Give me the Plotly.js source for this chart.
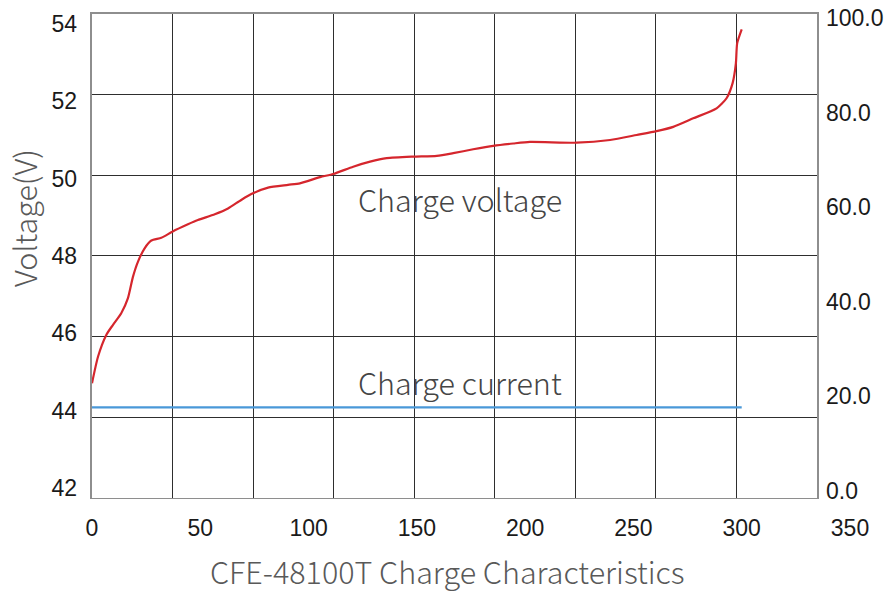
<!DOCTYPE html>
<html>
<head>
<meta charset="utf-8">
<script src="https://cdn.plot.ly/plotly-3.0.1.min.js"></script>
<style>html,body{margin:0;padding:0;background:#fff;}#chart{width:891px;height:594px;}</style>
</head>
<body>
<div id="chart"></div>
<script>
// ---- data ----
const timeMin = [0, 2.8, 6.6, 9.7, 13.5, 16.6, 18.9, 21.2, 24.3, 27.4, 32.0, 37.1, 44.3, 48.9, 56.7, 62.8, 68.9, 74.3, 81.3, 90.5, 96.0, 105.3, 111.4, 120.6, 128.4, 136.1, 148.3, 159.2, 166.8, 176.0, 185.3, 194.5, 202.2, 223.8, 239.2, 251.5, 260.7, 268.4, 277.6, 288.4, 293.0, 295.8, 297.3, 297.9, 300.0];
const chargeVoltage = [44.71, 45.40, 45.96, 46.22, 46.52, 46.91, 47.46, 47.85, 48.20, 48.40, 48.47, 48.63, 48.82, 48.93, 49.08, 49.23, 49.45, 49.62, 49.77, 49.84, 49.88, 50.04, 50.12, 50.31, 50.44, 50.53, 50.57, 50.59, 50.66, 50.76, 50.85, 50.91, 50.95, 50.93, 51.00, 51.13, 51.23, 51.34, 51.56, 51.82, 52.08, 52.47, 52.98, 53.50, 53.86];
const currentTime = [0, 300];
const chargeCurrent = [17.7, 17.7];

const xTicks = [0, 50, 100, 150, 200, 250, 300, 350];
const voltageTicks = [42, 44, 46, 48, 50, 52, 54];
const currentTicks = [0, 20, 40, 60, 80, 100];
const currentTickText = currentTicks.map(v => v.toFixed(1));

const seriesLabels = ['Charge voltage', 'Charge current'];
const yTitle = 'Voltage(V)';
const xTitle = 'CFE-48100T Charge Characteristics';

// ---- layout geometry ----
const W = 891, H = 594;
const px = v => v / W, py = v => 1 - v / H;
const frameX = [px(92), px(817)];
const frameY = [py(497.7), py(14)];
const wideX = [px(92), px(850)];

const tickFont = {family: 'Liberation Sans, Arial, sans-serif', size: 23, color: '#1a1a1a'};
const textFont = {family: 'Noto Sans CJK SC, Noto Sans, sans-serif', size: 30.5, color: '#595959', weight: 300};

const traces = [
  {x: [], y: [], xaxis: 'x', yaxis: 'y', type: 'scatter', mode: 'lines', showlegend: false, hoverinfo: 'skip'},
  {x: timeMin, y: chargeVoltage, xaxis: 'x2', yaxis: 'y2', type: 'scatter', mode: 'lines',
   name: seriesLabels[0], line: {color: '#d5262d', width: 2.2, shape: 'spline', smoothing: 0.6}},
  {x: currentTime, y: chargeCurrent, xaxis: 'x2', yaxis: 'y3', type: 'scatter', mode: 'lines',
   name: seriesLabels[1], line: {color: '#4a98d8', width: 2.2}}
];

const layout = {
  width: W, height: H,
  margin: {l: 0, r: 0, t: 0, b: 0},
  paper_bgcolor: '#ffffff',
  plot_bgcolor: 'rgba(0,0,0,0)',
  showlegend: false,
  // grid frame
  xaxis: {domain: frameX, anchor: 'y', range: [0, 9], dtick: 1, tick0: 0, showgrid: true,
          gridcolor: '#2e2e2e', gridwidth: 1, showticklabels: false, ticks: '', zeroline: false,
          showline: true, mirror: true, linecolor: '#8e8e8e', linewidth: 1.6, fixedrange: true},
  yaxis: {domain: frameY, anchor: 'x', range: [0, 6], dtick: 1, tick0: 0, showgrid: true,
          gridcolor: '#2e2e2e', gridwidth: 1, showticklabels: false, ticks: '', zeroline: false,
          showline: true, mirror: true, linecolor: '#8e8e8e', linewidth: 1.6, fixedrange: true},
  // data axes
  xaxis2: {domain: wideX, anchor: 'y2', range: [0, 350], tickvals: xTicks, ticktext: xTicks.map(String),
           showgrid: false, zeroline: false, showline: false, ticks: '', tickfont: tickFont,
           ticklabelstandoff: 14},
  yaxis2: {domain: frameY, anchor: 'x2', range: [41.749, 54.259], tickvals: voltageTicks,
           ticktext: voltageTicks.map(String), showgrid: false, zeroline: false, showline: false,
           ticks: '', tickfont: tickFont, ticklabelstandoff: 14},
  yaxis3: {overlaying: 'y2', side: 'right', anchor: 'free', position: px(817),
           range: [-1.416, 100.846], tickvals: currentTicks, ticktext: currentTickText,
           showgrid: false, zeroline: false, showline: false, ticks: '', tickfont: tickFont,
           ticklabelstandoff: 8},
  annotations: [
    {text: seriesLabels[0], xref: 'paper', yref: 'paper', x: px(356), y: py(199), xanchor: 'left', yanchor: 'middle', showarrow: false, font: Object.assign({}, textFont, {color: '#454545'})},
    {text: seriesLabels[1], xref: 'paper', yref: 'paper', x: px(356), y: py(382), xanchor: 'left', yanchor: 'middle', showarrow: false, font: Object.assign({}, textFont, {color: '#454545'})},
    {text: yTitle, xref: 'paper', yref: 'paper', x: px(24), y: py(218), xanchor: 'center', yanchor: 'middle', textangle: -90, showarrow: false, font: textFont},
    {text: xTitle, xref: 'paper', yref: 'paper', x: px(447), y: py(571), xanchor: 'center', yanchor: 'middle', showarrow: false, font: textFont}
  ]
};

Plotly.newPlot('chart', traces, layout, {displayModeBar: false, staticPlot: true});
</script>
</body>
</html>
